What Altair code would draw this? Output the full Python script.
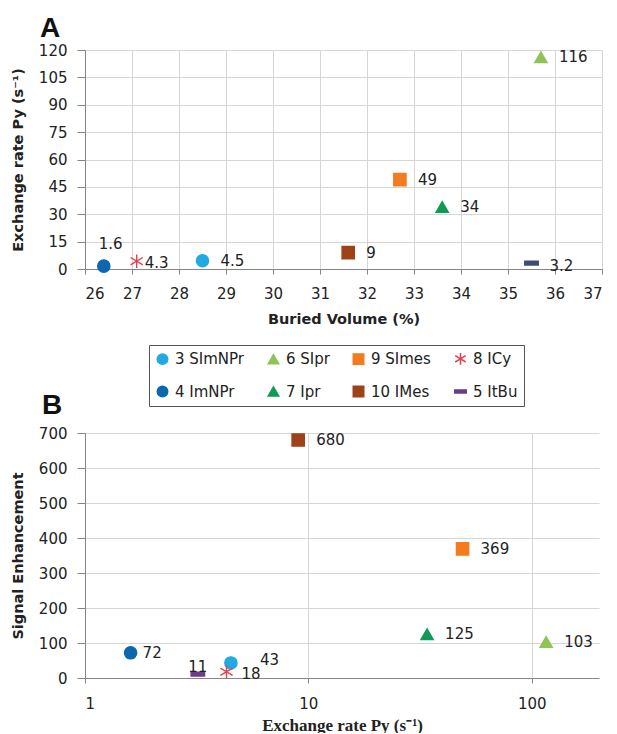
import altair as alt
import pandas as pd

# ---- data (ordered column by column, as in the legend) ----------------
ASTERISK = "M0,-1.1L0,1.1M-1,-0.6L1,0.6M-1,0.6L1,-0.6"
DASH = "M-1.1,-0.3L1.1,-0.3L1.1,0.3L-1.1,0.3Z"

names = ["3 SImNPr", "4 ImNPr", "6 SIpr", "7 Ipr", "9 SImes", "10 IMes", "8 ICy", "5 ItBu"]
colors = ["#22a9e1", "#0c68ae", "#8dc455", "#0f9a55", "#f47b20", "#9e4219", "#e0424f", "#6b3d8c"]
shapes = ["circle", "circle", "triangle-up", "triangle-up", "square", "square", ASTERISK, DASH]

buried_volume = [28.5, 26.4, 35.7, 33.6, 32.7, 31.6, 27.1, 35.5]
exchange_rate = [4.5, 1.6, 116, 34, 49, 9, 4.3, 3.2]
signal_enhancement = [43, 72, 103, 125, 369, 680, 18, 11]
label_a = ["4.5", "1.6", "116", "34", "49", "9", "4.3", "3.2"]
label_b = ["43", "72", "103", "125", "369", "680", "18", "11"]

x_ticks_a = list(range(26, 38))
y_ticks_a = list(range(0, 121, 15))
x_ticks_b = [1, 10, 100]
y_ticks_b = list(range(0, 701, 100))

df = pd.DataFrame({
    "name": names,
    "bv": buried_volume,
    "ex": exchange_rate,
    "se": signal_enhancement,
    "la": label_a,
    "lb": label_b,
})

# ---- styles -----------------------------------------------------------
FONT = "DejaVu Sans"
TXT = "#222222"
GRID = "#d6d6d6"
DOM = "#858585"

color_scale = alt.Scale(domain=names, range=colors)
shape_scale = alt.Scale(domain=names, range=shapes)

legend = alt.Legend(
    orient="none", legendX=64, legendY=295, columns=4, title=None,
    symbolSize=110, symbolStrokeWidth=1.5,
    labelFont=FONT, labelFontSize=15, labelColor=TXT, labelOffset=5,
    strokeColor="#555555", fillColor="white", padding=6,
    rowPadding=15, columnPadding=20,
)


def axis(title, values, **kw):
    base = dict(
        values=values, grid=True, gridColor=GRID, domainColor=DOM, tickColor=DOM,
        tickSize=8, labelFont=FONT, labelFontSize=15, labelColor=TXT,
        title=title, titleFont=FONT, titleFontSize=14.5, titleFontWeight="bold",
        titleColor=TXT, format="d",
    )
    base.update(kw)
    return alt.Axis(**base)


def points(x, y, filt=None, color_value=None):
    ch = alt.Chart(df)
    if filt is not None:
        ch = ch.transform_filter(filt)
    enc = dict(x=x, y=y, shape=alt.Shape("name:N", scale=shape_scale, legend=legend))
    if color_value is None:
        enc["color"] = alt.Color("name:N", scale=color_scale, legend=legend)
        enc["stroke"] = alt.Stroke("name:N", scale=color_scale, legend=legend)
        return ch.mark_point(filled=True, size=150, strokeWidth=1.4, opacity=1).encode(**enc)
    return ch.mark_point(filled=True, size=150, strokeWidth=1.4, opacity=1,
                         color=color_value, stroke=color_value).encode(**enc)


def labels(x, y, text, filt, **kw):
    style = dict(font=FONT, fontSize=15, color=TXT, align="left", baseline="middle")
    style.update(kw)
    return alt.Chart(df).transform_filter(filt).mark_text(**style).encode(x=x, y=y, text=text)


# ---- panel A ----------------------------------------------------------
xa = alt.X("bv:Q", scale=alt.Scale(domain=[26, 37], nice=False, zero=False),
           axis=axis("Buried Volume (%)", x_ticks_a, tickSize=5, labelPadding=12,
                     titlePadding=11))
ya = alt.Y("ex:Q", scale=alt.Scale(domain=[0, 120], nice=False),
           axis=axis("Exchange rate Py (s⁻¹)", y_ticks_a, labelPadding=10, titlePadding=13))

is_imnpr = alt.datum.name == "4 ImNPr"
is_itbu = alt.datum.name == "5 ItBu"
is_icy = alt.datum.name == "8 ICy"

panel_a = alt.layer(
    points(xa, ya, filt=~is_itbu),
    points(xa, ya, filt=is_itbu, color_value="#3e4d72"),
    labels(xa, ya, "la:N", ~(is_imnpr | is_itbu | is_icy), dx=18),
    labels(xa, ya, "la:N", is_imnpr, dx=-5, dy=-22),
    labels(xa, ya, "la:N", is_icy, dx=8, dy=2),
    labels(xa, ya, "la:N", is_itbu, dx=18, dy=3),
).properties(
    width=517, height=219,
    title=alt.TitleParams("A", anchor="start", frame="group", font="Liberation Sans",
                          fontSize=28, fontWeight="bold", color="#111111", dx=-45, offset=0),
)

# ---- panel B ----------------------------------------------------------
xb = alt.X("ex:Q", scale=alt.Scale(type="log", domain=[1, 200], nice=False),
           axis=axis("Exchange rate Py (s⁻¹)", x_ticks_b, tickSize=5, labelPadding=13,
                     titlePadding=6, titleFont="Liberation Serif", titleFontSize=17))
yb = alt.Y("se:Q", scale=alt.Scale(domain=[0, 700], nice=False),
           axis=axis("Signal Enhancement", y_ticks_b, labelPadding=10, titlePadding=13))

is_72 = alt.datum.name == "4 ImNPr"
is_11 = alt.datum.name == "5 ItBu"
is_18 = alt.datum.name == "8 ICy"
is_43 = alt.datum.name == "3 SImNPr"

panel_b = alt.layer(
    points(xb, yb),
    labels(xb, yb, "lb:N", ~(is_72 | is_11 | is_18 | is_43), dx=18),
    labels(xb, yb, "lb:N", is_72, dx=12),
    labels(xb, yb, "lb:N", is_18, dx=15, dy=2),
    labels(xb, yb, "lb:N", is_43, dx=29, dy=-3),
    labels(xb, yb, "lb:N", is_11, align="center", dy=-7),
).properties(
    width=514, height=245,
    title=alt.TitleParams("B", anchor="start", frame="group", font="Liberation Sans",
                          fontSize=28, fontWeight="bold", color="#111111", dx=-43, offset=6),
)

chart = alt.vconcat(panel_a, panel_b, spacing=66).properties(
    padding={"left": 2, "top": 7, "right": 0, "bottom": 0}
).configure_view(stroke=None)

chart.save("out.html", embed_options={"renderer": "svg", "actions": False})
